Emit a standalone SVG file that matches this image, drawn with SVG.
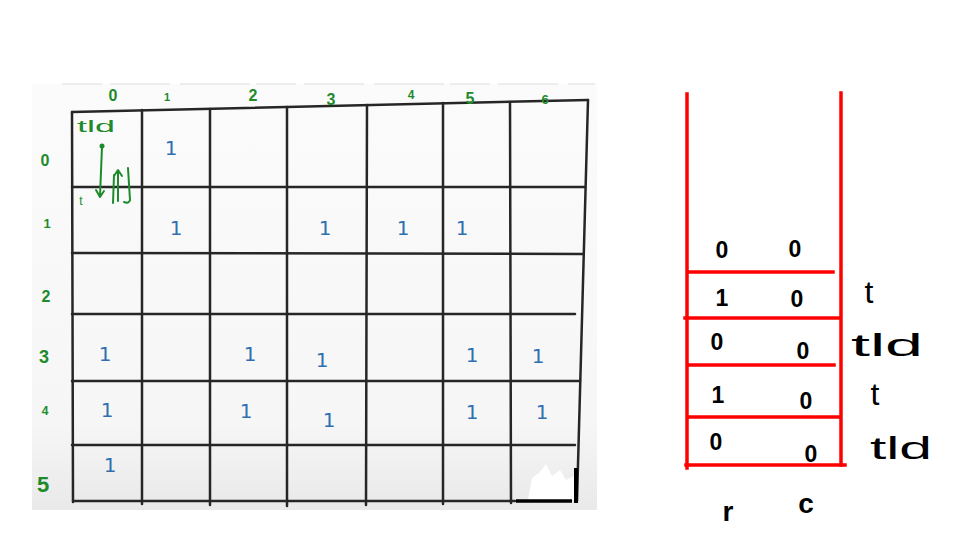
<svg xmlns="http://www.w3.org/2000/svg" width="955" height="549" viewBox="0 0 955 549">
<defs>
<linearGradient id="bg" x1="0" y1="0" x2="0" y2="1">
<stop offset="0" stop-color="#fbfbfb"/>
<stop offset="0.8" stop-color="#f6f6f6"/>
<stop offset="1" stop-color="#e9e9e9"/>
</linearGradient>
<style>
.g{stroke:#262626;stroke-width:2.5;fill:none;stroke-linecap:round}
.lab{fill:#1e8a2c;font-family:"Liberation Sans",Arial,sans-serif;text-anchor:middle}
.one{fill:#2f6fb0;font-family:"DejaVu Sans",sans-serif;font-size:20px;text-anchor:middle}
.ann{stroke:#1e8a2c;stroke-width:2;fill:none;stroke-linecap:round;stroke-linejoin:round}
.red{stroke:#ff0000;stroke-width:3.5;fill:none;stroke-linecap:square}
.bk{fill:#000;font-family:"Liberation Sans",Arial,sans-serif;text-anchor:middle}
</style>
</defs>
<rect width="955" height="549" fill="#ffffff"/>
<g id="grid-panel">
<rect x="32" y="84" width="565" height="426" fill="url(#bg)"/>
<line x1="62" y1="84" x2="595" y2="84" stroke="#e8e8e8" stroke-width="1.5" stroke-dasharray="40 8 60 10 70 6"/>
<g id="grid-lines">
<path class="g" d="M72 112 L588 100"/>
<path class="g" d="M72 112 L73 502"/>
<path class="g" d="M142 110 L142 504"/>
<path class="g" d="M210 109 L210 505"/>
<path class="g" d="M287 107 L287 506"/>
<path class="g" d="M367 105 L366 505"/>
<path class="g" d="M443 103 L443 504"/>
<path class="g" d="M510 102 L511 503"/>
<path class="g" d="M588 100 L577 501"/>
<path class="g" d="M72 187 L585 187"/>
<path class="g" d="M72 253 L583 254"/>
<path class="g" d="M72 314 L575 314"/>
<path class="g" d="M72 381 L580 381"/>
<path class="g" d="M72 445 L575 445"/>
<path class="g" d="M73 501 L515 501"/>
</g>
<path d="M528 500 L532 478 L540 472 L546 464 L552 476 L560 470 L566 480 L574 476 L575 500 Z" fill="#ffffff"/>
<path d="M516 501 L572 501" stroke="#000" stroke-width="3.5"/>
<path d="M576 468 L576 503" stroke="#000" stroke-width="4"/>
<g id="col-labels" font-size="16" font-weight="bold">
<text class="lab" x="113" y="101">0</text>
<text class="lab" x="167" y="101" font-size="11">1</text>
<text class="lab" x="253" y="101">2</text>
<text class="lab" x="331" y="105">3</text>
<text class="lab" x="411" y="99" font-size="12">4</text>
<text class="lab" x="470" y="104">5</text>
<text class="lab" x="545" y="104" font-size="13">6</text>
</g>
<g id="row-labels" font-size="16" font-weight="bold">
<text class="lab" x="45" y="166">0</text>
<text class="lab" x="47" y="228" font-size="13">1</text>
<text class="lab" x="46" y="302">2</text>
<text class="lab" x="44" y="363" font-size="18">3</text>
<text class="lab" x="45" y="415" font-size="12">4</text>
<text class="lab" x="43" y="492" font-size="22">5</text>
</g>
<g id="cell-values">
<text class="one" x="171" y="155">1</text>
<text class="one" x="176" y="235">1</text>
<text class="one" x="325" y="235">1</text>
<text class="one" x="403" y="235">1</text>
<text class="one" x="462" y="235">1</text>
<text class="one" x="105" y="361">1</text>
<text class="one" x="250" y="361">1</text>
<text class="one" x="322" y="367">1</text>
<text class="one" x="472" y="362">1</text>
<text class="one" x="538" y="363">1</text>
<text class="one" x="107" y="417">1</text>
<text class="one" x="246" y="418">1</text>
<text class="one" x="329" y="427">1</text>
<text class="one" x="472" y="419">1</text>
<text class="one" x="542" y="419">1</text>
<text class="one" x="110" y="472">1</text>
</g>
<g id="cell-00-notes">
<text class="lab" x="96" y="132" font-size="17" textLength="38" lengthAdjust="spacingAndGlyphs">tld</text>
<circle cx="102" cy="146" r="2.5" fill="#1e8a2c"/>
<path class="ann" d="M102 147 L100 196 M96 190 L100 197 L104 191"/>
<path class="ann" d="M114 175 L113 203 M118 201 L118 171 M114 176 L118 170 L122 176 M128 168 L130 200 Q129 204 124 202"/>
<text class="lab" x="81" y="205" font-size="12">t</text>
</g>
</g>
<g id="stack">
<g id="stack-lines">
<path class="red" d="M687 94 L687 468"/>
<path class="red" d="M841 93 L841 465"/>
<path class="red" d="M688 272 L833 272"/>
<path class="red" d="M685 318 L840 318"/>
<path class="red" d="M688 365 L834 365"/>
<path class="red" d="M688 417 L840 417"/>
<path class="red" d="M686 465 L845 465"/>
</g>
<g id="stack-values" font-size="23" font-weight="bold">
<text class="bk" x="722" y="258">0</text>
<text class="bk" x="795" y="257">0</text>
<text class="bk" x="722" y="306">1</text>
<text class="bk" x="797" y="307">0</text>
<text class="bk" x="717" y="350">0</text>
<text class="bk" x="803" y="359">0</text>
<text class="bk" x="718" y="403">1</text>
<text class="bk" x="806" y="409">0</text>
<text class="bk" x="716" y="450">0</text>
<text class="bk" x="811" y="462">0</text>
</g>
<g id="stack-tags" font-size="32">
<text class="bk" x="869" y="303">t</text>
<text class="bk" x="887" y="356" textLength="72" lengthAdjust="spacingAndGlyphs">tld</text>
<text class="bk" x="875" y="405">t</text>
<text class="bk" x="901" y="459" textLength="62" lengthAdjust="spacingAndGlyphs">tld</text>
</g>
<g id="stack-axes" font-size="28" font-weight="bold">
<text class="bk" x="728" y="521">r</text>
<text class="bk" x="806" y="513">c</text>
</g>
</g>
</svg>
